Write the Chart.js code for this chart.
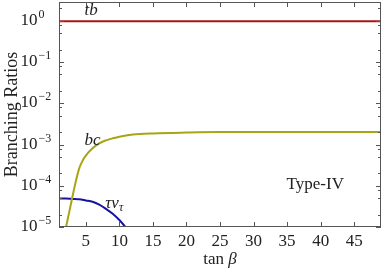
<!DOCTYPE html>
<html>
<head>
<meta charset="utf-8">
<script src="https://cdn.jsdelivr.net/npm/chart.js@4"></script>
<style>
  html, body { margin: 0; padding: 0; background: #fff; }
  #wrap { width: 382px; height: 268px; }
</style>
</head>
<body>
<div id="wrap"><canvas id="brChart" width="382" height="268"></canvas></div>
<script>
// tan(beta) grid and branching ratios
const tanbTb = [1, 49];
const brTb = [0.97, 0.97];

const tanbBc = [1.9, 2, 2.5, 3, 3.5, 4, 4.5, 5, 6, 7, 8, 9, 10, 12, 15, 20, 25, 30, 35, 40, 45, 49];
const brBc = [7.6e-6, 9.1e-6, 2.2e-5, 5.4e-5, 1.26e-4, 2.6e-4, 4.0e-4, 5.4e-4, 8.1e-4, 1.07e-3, 1.26e-3,
              1.41e-3, 1.55e-3, 1.74e-3, 1.86e-3, 1.95e-3, 2.0e-3, 2.0e-3, 2.0e-3, 2.0e-3, 2.0e-3, 2.0e-3];

const tanbTau = [1, 2, 3, 4, 5, 6, 7, 8, 9, 10, 11, 12];
const brTau = [4.9e-5, 4.9e-5, 4.8e-5, 4.7e-5, 4.4e-5, 4.1e-5, 3.5e-5, 2.75e-5, 2.1e-5, 1.48e-5, 9.5e-6, 5.6e-6];

const xTicks = [5, 10, 15, 20, 25, 30, 35, 40, 45];
const yDecades = [0, -1, -2, -3, -4, -5];
const yMinorMult = [2, 5, 8];

// curve labels, placed in data coordinates
const curveLabels = [
    {text: 'tb', x: 5.8, y: 1.8},
    {text: 'bc', x: 6.0, y: 1.22e-3},
];

const SERIF = '"Liberation Serif", "DejaVu Serif", serif';
const INK = '#222';

function toPoints(xs, ys) {
    return xs.map((x, i) => ({x: x, y: ys[i]}));
}

const framePlugin = {
    id: 'frame',
    afterDatasetsDraw(chart) {
        const ctx = chart.ctx;
        const area = chart.chartArea;
        const xs = chart.scales.x;
        const ys = chart.scales.y;
        ctx.save();

        // box
        ctx.strokeStyle = '#555';
        ctx.lineWidth = 1;
        ctx.strokeRect(area.left + 0.5, area.top + 0.5, area.right - area.left - 1, area.bottom - area.top - 1);

        // x ticks (bottom and top, inward)
        ctx.beginPath();
        xTicks.forEach(v => {
            const px = Math.round(xs.getPixelForValue(v)) + 0.5;
            ctx.moveTo(px, area.bottom); ctx.lineTo(px, area.bottom - 5);
            ctx.moveTo(px, area.top); ctx.lineTo(px, area.top + 5);
        });
        // y ticks, major and minor, both sides
        yDecades.forEach(k => {
            const py = Math.round(ys.getPixelForValue(Math.pow(10, k))) + 0.5;
            ctx.moveTo(area.left, py); ctx.lineTo(area.left + 5, py);
            ctx.moveTo(area.right, py); ctx.lineTo(area.right - 5, py);
            yMinorMult.forEach(m => {
                const v = m * Math.pow(10, k);
                if (v < ys.min || v > ys.max) return;
                const pm = Math.round(ys.getPixelForValue(v)) + 0.5;
                ctx.moveTo(area.left, pm); ctx.lineTo(area.left + 3, pm);
                ctx.moveTo(area.right, pm); ctx.lineTo(area.right - 3, pm);
            });
        });
        ctx.stroke();

        // y tick labels 10^k
        ctx.fillStyle = INK;
        ctx.textBaseline = 'alphabetic';
        yDecades.forEach(k => {
            const py = ys.getPixelForValue(Math.pow(10, k));
            ctx.font = '17px ' + SERIF;
            ctx.textAlign = 'right';
            ctx.fillText('10', 37.5, py + 4);
            ctx.font = '12px ' + SERIF;
            ctx.textAlign = 'left';
            ctx.fillText(k === 0 ? '0' : '\u2212' + (-k), 38.5, py - 3);
        });

        // curve labels
        ctx.font = 'italic 17px ' + SERIF;
        ctx.textAlign = 'center';
        ctx.textBaseline = 'middle';
        curveLabels.forEach(l => {
            ctx.fillText(l.text, xs.getPixelForValue(l.x), ys.getPixelForValue(l.y));
        });

        // tau nu_tau label
        const tx = xs.getPixelForValue(7.9);
        const ty = ys.getPixelForValue(2.9e-5);
        ctx.textAlign = 'left';
        ctx.textBaseline = 'alphabetic';
        ctx.font = 'italic 17px ' + SERIF;
        ctx.fillText('\u03c4\u03bd', tx, ty);
        const w = ctx.measureText('\u03c4\u03bd').width;
        ctx.font = 'italic 12px ' + SERIF;
        ctx.fillText('\u03c4', tx + w, ty + 3);

        // model label
        ctx.font = '17px ' + SERIF;
        ctx.textAlign = 'center';
        ctx.textBaseline = 'middle';
        ctx.fillText('Type-IV', xs.getPixelForValue(39.2), ys.getPixelForValue(1.1e-4));

        // axis titles
        const cx = (area.left + area.right) / 2;
        ctx.textBaseline = 'alphabetic';
        ctx.font = '17px ' + SERIF;
        const wTan = ctx.measureText('tan ').width;
        ctx.font = 'italic 17px ' + SERIF;
        const wBeta = ctx.measureText('\u03b2').width;
        const startX = cx - (wTan + wBeta) / 2;
        ctx.textAlign = 'left';
        ctx.font = '17px ' + SERIF;
        ctx.fillText('tan ', startX, 264);
        ctx.font = 'italic 17px ' + SERIF;
        ctx.fillText('\u03b2', startX + wTan, 264);

        ctx.save();
        ctx.translate(12, (area.top + area.bottom) / 2);
        ctx.rotate(-Math.PI / 2);
        ctx.font = '18px ' + SERIF;
        ctx.textAlign = 'center';
        ctx.textBaseline = 'middle';
        ctx.fillText('Branching Ratios', 0, 0);
        ctx.restore();

        ctx.restore();
    }
};

const ctx = document.getElementById('brChart');
new Chart(ctx, {
    type: 'line',
    data: {
        datasets: [
            {
                label: 'tb',
                data: toPoints(tanbTb, brTb),
                borderColor: '#a81414',
                borderWidth: 2,
                pointRadius: 0,
                tension: 0
            },
            {
                label: 'bc',
                data: toPoints(tanbBc, brBc),
                borderColor: '#a8a414',
                borderWidth: 2,
                pointRadius: 0,
                cubicInterpolationMode: 'monotone'
            },
            {
                label: 'tau nu',
                data: toPoints(tanbTau, brTau),
                borderColor: '#1414a0',
                borderWidth: 2,
                pointRadius: 0,
                cubicInterpolationMode: 'monotone'
            }
        ]
    },
    options: {
        responsive: false,
        animation: false,
        devicePixelRatio: 1,
        layout: {padding: {top: 2, right: 1, left: 0, bottom: 0}},
        plugins: {
            legend: {display: false},
            tooltip: {enabled: false}
        },
        scales: {
            x: {
                type: 'linear',
                min: 1,
                max: 49,
                grid: {display: false, drawTicks: false},
                border: {display: false},
                afterBuildTicks: (scale) => { scale.ticks = xTicks.map(v => ({value: v})); },
                afterFit: (scale) => { scale.height = 41; },
                ticks: {
                    padding: 4,
                    color: INK,
                    maxRotation: 0,
                    autoSkip: false,
                    font: {family: SERIF, size: 17}
                }
            },
            y: {
                type: 'logarithmic',
                min: 1e-5,
                max: 2.85,
                grid: {display: false, drawTicks: false},
                border: {display: false},
                afterFit: (scale) => { scale.width = 59; },
                ticks: {display: false}
            }
        }
    },
    plugins: [framePlugin]
});
</script>
</body>
</html>
